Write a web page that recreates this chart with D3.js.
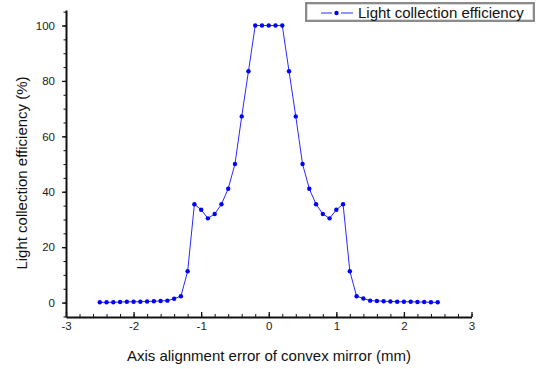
<!DOCTYPE html>
<html>
<head>
<meta charset="utf-8">
<script src="https://cdn.jsdelivr.net/npm/d3@7"></script>
<style>
  body { margin: 0; background: #fff; }
  text { font-family: "Liberation Sans", Arial, sans-serif; }
</style>
</head>
<body>
<svg id="chart" width="536" height="369"></svg>
<script>
// offsets in mm
const offsets = [-2.5,-2.4,-2.3,-2.2,-2.1,-2.0,-1.9,-1.8,-1.7,-1.6,-1.5,-1.4,-1.3,-1.2,-1.1,-1.0,-0.9,-0.8,-0.7,-0.6,
  -0.5,-0.4,-0.3,-0.2,-0.1,0,0.1,0.2,0.3,0.4,0.5,0.6,0.7,0.8,0.9,1.0,1.1,1.2,1.3,1.4,
  1.5,1.6,1.7,1.8,1.9,2.0,2.1,2.2,2.3,2.4,2.5]
// efficiency in %
const efficiency = [0.1,0.1,0.1,0.2,0.3,0.3,0.3,0.4,0.5,0.6,0.7,1.4,2.3,11.3,35.5,33.5,30.4,32,35.5,41.1,
  50,67.2,83.5,100,100,100,100,100,83.5,67.2,50,41.1,35.5,32,30.4,33.5,35.5,11.3,2.3,1.5,
  0.7,0.6,0.5,0.4,0.3,0.3,0.3,0.2,0.2,0.1,0.1]
const xTicks = [-3,-2,-1,0,1,2,3]
const yTicks = [0,20,40,60,80,100]
const seriesName = 'Light collection efficiency'

const svg = d3.select('#chart')
const color = '#2a2aff'

const x = d3.scaleLinear().domain([-3,3]).range([66,471.5])
const y = d3.scaleLinear().domain([-5.2,105.6]).range([317,10])

// minor ticks
svg.append('g')
  .attr('transform','translate(0,317)')
  .call(d3.axisBottom(x).tickValues(d3.range(-3,3.01,0.2)).tickSize(-3).tickFormat(''))
  .call(g => g.select('.domain').remove())
svg.append('g')
  .attr('transform','translate(66,0)')
  .call(d3.axisLeft(y).tickValues(d3.range(-5,105.1,5)).tickSize(2.5).tickFormat(''))
  .call(g => g.select('.domain').remove())

// x axis
const xAxis = svg.append('g')
  .attr('transform','translate(0,317)')
  .call(d3.axisBottom(x).tickValues(xTicks).tickSizeInner(-5).tickSizeOuter(0).tickPadding(5).tickFormat(d => String(d)))
xAxis.select('.domain').attr('stroke-width',2)
xAxis.selectAll('.tick line').attr('stroke-width',1.3)
xAxis.selectAll('text').attr('font-size','11.5px').attr('fill','#222')

// y axis
const yAxis = svg.append('g')
  .attr('transform','translate(66,0)')
  .call(d3.axisLeft(y).tickValues(yTicks).tickSizeInner(4).tickSizeOuter(0).tickPadding(7))
yAxis.select('.domain').attr('stroke-width',2)
yAxis.selectAll('.tick line').attr('stroke-width',1.3)
yAxis.selectAll('text').attr('font-size','11.5px').attr('fill','#222')

svg.selectAll('.tick line, .domain').attr('stroke','#111')

// axis titles
svg.append('text')
  .attr('x',269).attr('y',361)
  .attr('text-anchor','middle')
  .attr('font-size','15px').attr('fill','#111')
  .text('Axis alignment error of convex mirror (mm)')
svg.append('text')
  .attr('transform','translate(27,173) rotate(-90)')
  .attr('text-anchor','middle')
  .attr('font-size','15px').attr('fill','#111')
  .text('Light collection efficiency (%)')

// series
const line = d3.line().x((d,i) => x(offsets[i])).y(d => y(d))
svg.append('path')
  .datum(efficiency)
  .attr('d',line)
  .attr('fill','none')
  .attr('stroke',color)
  .attr('stroke-width',1)

svg.append('g').selectAll('circle')
  .data(efficiency)
  .join('circle')
  .attr('cx',(d,i) => x(offsets[i]))
  .attr('cy',d => y(d))
  .attr('r',2.2)
  .attr('fill','#0000ff')

// legend
const lg = svg.append('g')
lg.append('rect')
  .attr('x',306).attr('y',3).attr('width',228).attr('height',18)
  .attr('fill','#fff').attr('stroke','#666').attr('stroke-width',1.5)
lg.append('rect')
  .attr('x',307.5).attr('y',4.5).attr('width',225).attr('height',15)
  .attr('fill','none').attr('stroke','#ccc').attr('stroke-width',0.7)
lg.append('line').attr('x1',321).attr('x2',332).attr('y1',13).attr('y2',13)
  .attr('stroke',color).attr('stroke-width',1)
lg.append('line').attr('x1',341).attr('x2',353).attr('y1',13).attr('y2',13)
  .attr('stroke',color).attr('stroke-width',1)
lg.append('circle').attr('cx',336.5).attr('cy',13).attr('r',2.2).attr('fill','#0000ff')
lg.append('text')
  .attr('x',358).attr('y',18)
  .attr('font-size','15px').attr('fill','#111')
  .text(seriesName)
</script>
</body>
</html>
